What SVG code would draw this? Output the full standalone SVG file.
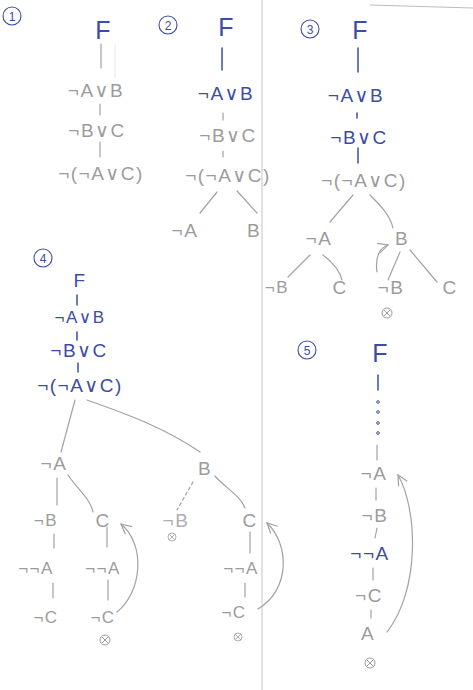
<svg xmlns="http://www.w3.org/2000/svg" xmlns:xlink="http://www.w3.org/1999/xlink" width="473" height="690" viewBox="0 0 473 690">
<style>
text{font-family:"Liberation Sans","DejaVu Sans",sans-serif;text-anchor:middle;dominant-baseline:central;}
.g{fill:#9c9c9c;font-size:19px;letter-spacing:1.5px;}
.b{fill:#3d4ca6;font-size:19px;letter-spacing:1.5px;}
.f{font-size:25px;letter-spacing:0;}
.s{font-size:17px;}
.n{fill:#3d4ca6;font-size:12px;}
.lg{stroke:#a2a2a2;stroke-width:1.2;fill:none;stroke-linecap:round;}
.lb{stroke:#3d4ca6;stroke-width:1.5;fill:none;stroke-linecap:round;}
.num{fill:none;stroke:#3d4ca6;stroke-width:1.1;}
.ot{fill:none;stroke:#9c9c9c;stroke-width:1;}
</style>
<defs>
<marker id="ah" viewBox="0 0 12 12" refX="11" refY="6" markerWidth="12" markerHeight="12" markerUnits="userSpaceOnUse" orient="auto">
<path d="M1,1 L11,6 L1,11" fill="none" stroke="#a2a2a2" stroke-width="1.2"/>
</marker>
<g id="otimes"><circle cx="0" cy="0" r="5" class="ot"/><path d="M-3.5,-3.5 L3.5,3.5 M-3.5,3.5 L3.5,-3.5" class="ot"/></g>
</defs>
<rect width="473" height="690" fill="#ffffff"/>
<g id="paper-marks">
<path d="M262,0 L262,690" stroke="#cfcfcf" stroke-width="1.2"/>
<path d="M370,5 L473,8" stroke="#bdbdbd" stroke-width="1.2"/>
<path d="M115,44 L115,78" stroke="#e6e6e6" stroke-width="1"/>
</g>
<g id="connectors">
<!-- panel 1 -->
<path class="lg" d="M101,44 L101,68"/>
<path class="lg" d="M100,104 L100,115"/>
<path class="lg" d="M100,142 L100,157"/>
<!-- panel 2 -->
<path class="lb" d="M222,48 L222,70"/>
<path class="lg" d="M223,113 L223,120"/>
<path class="lg" d="M223,151 L223,157"/>
<path class="lg" d="M217,192 L200,213"/>
<path class="lg" d="M237,191 L257,213"/>
<!-- panel 3 -->
<path class="lb" d="M358,48 L358,72"/>
<path class="lb" d="M357,113 L357,118"/>
<path class="lb" d="M358,148 L358,163" stroke-width="2"/>
<path class="lg" d="M353,195 L330,222"/>
<path class="lg" d="M370,195 C380,205 390,215 393,228"/>
<path class="lg" d="M310,255 L288,277"/>
<path class="lg" d="M323,255 C332,262 340,270 342,280"/>
<path class="lg" d="M400,252 L388,280"/>
<path class="lg" d="M410,250 L437,282"/>
<path class="lg" d="M377,272 C375,258 379,248 388,245" marker-end="url(#ah)"/>
<!-- panel 4 -->
<path class="lb" d="M77,295 L77,305"/>
<path class="lb" d="M77,332 L77,340"/>
<path class="lb" d="M78,363 L78,372"/>
<path class="lg" d="M75,400 L61,452"/>
<path class="lg" d="M87,400 C120,412 160,425 200,452"/>
<path class="lg" d="M57,478 L57,505"/>
<path class="lg" d="M68,475 C78,490 90,498 93,512"/>
<path class="lg" d="M54,534 L54,548"/>
<path class="lg" d="M107,527 L107,547"/>
<path class="lg" d="M53,583 L53,598"/>
<path class="lg" d="M108,580 L108,600"/>
<path class="lg" d="M193,482 L177,510" stroke-dasharray="3,3"/>
<path class="lg" d="M215,476 C225,488 240,495 245,508"/>
<path class="lg" d="M250,532 L250,553"/>
<path class="lg" d="M245,583 L245,597"/>
<path class="lg" d="M117,612 C142,592 146,545 121,524" marker-end="url(#ah)"/>
<path class="lg" d="M258,609 C290,590 290,545 267,523" marker-end="url(#ah)"/>
<!-- panel 5 -->
<path class="lb" d="M378,375 L378,390"/>
<g fill="none" stroke="#3d4ca6" stroke-width="1"><circle cx="378" cy="402" r="1.3"/><circle cx="378" cy="412" r="1.3"/><circle cx="378" cy="423" r="1.3"/><circle cx="378" cy="433" r="1.3"/></g>
<path class="lg" d="M377,445 L377,460"/>
<path class="lg" d="M376,488 L376,500"/>
<path class="lg" d="M377,528 L375,538"/>
<path class="lg" d="M373,568 L373,580"/>
<path class="lg" d="M371,610 L371,618"/>
<path class="lg" d="M387,632 C420,590 418,510 398,475" marker-end="url(#ah)"/>
</g>
<g id="panel1">
<g id="p1-num"><circle class="num" cx="12" cy="16" r="9"/><text class="n" x="12" y="16.5">1</text></g>
<g id="p1-F"><text class="b f" x="103" y="30">F</text></g>
<g id="p1-n1"><text class="g" x="96" y="90">¬A∨B</text></g>
<g id="p1-n2"><text class="g" x="97" y="130">¬B∨C</text></g>
<g id="p1-n3"><text class="g" x="101" y="173">¬(¬A∨C)</text></g>
</g>
<g id="panel2">
<g id="p2-num"><circle class="num" cx="168" cy="25" r="9"/><text class="n" x="168" y="25.5">2</text></g>
<g id="p2-F"><text class="b f" x="226" y="27">F</text></g>
<g id="p2-n1"><text class="b" x="226" y="93">¬A∨B</text></g>
<g id="p2-n2"><text class="g" x="228" y="135">¬B∨C</text></g>
<g id="p2-n3"><text class="g" x="228" y="175">¬(¬A∨C)</text></g>
<g id="p2-n4"><text class="g" x="185" y="230">¬A</text></g>
<g id="p2-n5"><text class="g" x="254" y="230">B</text></g>
</g>
<g id="panel3">
<g id="p3-num"><circle class="num" cx="310" cy="29" r="9"/><text class="n" x="310" y="29.5">3</text></g>
<g id="p3-F"><text class="b f" x="360" y="30">F</text></g>
<g id="p3-n1"><text class="b" x="356" y="95">¬A∨B</text></g>
<g id="p3-n2"><text class="b" x="359" y="137">¬B∨C</text></g>
<g id="p3-n3"><text class="g" x="364" y="180">¬(¬A∨C)</text></g>
<g id="p3-n4"><text class="g" x="319" y="238">¬A</text></g>
<g id="p3-n5"><text class="g" x="402" y="238">B</text></g>
<g id="p3-n6"><text class="g s" x="277" y="287">¬B</text></g>
<g id="p3-n7"><text class="g" x="340" y="287">C</text></g>
<g id="p3-n8"><text class="g" x="391" y="287">¬B</text><use href="#otimes" x="387" y="313"/></g>
<g id="p3-n9"><text class="g" x="450" y="287">C</text></g>
</g>
<g id="panel4">
<g id="p4-num"><circle class="num" cx="43" cy="258" r="9"/><text class="n" x="43" y="258.5">4</text></g>
<g id="p4-F"><text class="b" x="80" y="280" font-size="23" letter-spacing="0">F</text></g>
<g id="p4-n1"><text class="b s" x="80" y="317">¬A∨B</text></g>
<g id="p4-n2"><text class="b" x="79" y="350">¬B∨C</text></g>
<g id="p4-n3"><text class="b" x="80" y="385">¬(¬A∨C)</text></g>
<g id="p4-n4"><text class="g" x="54" y="463">¬A</text></g>
<g id="p4-n5"><text class="g" x="205" y="468">B</text></g>
<g id="p4-n6"><text class="g s" x="46" y="520">¬B</text></g>
<g id="p4-n7"><text class="g" x="103" y="520">C</text></g>
<g id="p4-n8"><text class="g s" x="36" y="568">¬¬A</text></g>
<g id="p4-n9"><text class="g s" x="103" y="568">¬¬A</text></g>
<g id="p4-n10"><text class="g s" x="46" y="617">¬C</text></g>
<g id="p4-n11"><text class="g s" x="103" y="617">¬C</text><use href="#otimes" x="105" y="640"/></g>
<g id="p4-n12"><text class="g" x="176" y="520" font-size="15" opacity="0.8">¬B</text><use href="#otimes" x="172" y="537" transform="translate(172 537) scale(0.8) translate(-172 -537)"/></g>
<g id="p4-n13"><text class="g" x="250" y="520">C</text></g>
<g id="p4-n14"><text class="g s" x="241" y="568">¬¬A</text></g>
<g id="p4-n15"><text class="g s" x="234" y="612">¬C</text><use href="#otimes" x="238" y="637" transform="translate(238 637) scale(0.8) translate(-238 -637)"/></g>
</g>
<g id="panel5">
<g id="p5-num"><circle class="num" cx="307" cy="350" r="9"/><text class="n" x="307" y="350.5">5</text></g>
<g id="p5-F"><text class="b f" x="380" y="353">F</text></g>
<g id="p5-n1"><text class="g" x="374" y="473">¬A</text></g>
<g id="p5-n2"><text class="g" x="375" y="515">¬B</text></g>
<g id="p5-n3"><text class="b" x="370" y="553">¬¬A</text></g>
<g id="p5-n4"><text class="g" x="369" y="595">¬C</text></g>
<g id="p5-n5"><text class="g" x="368" y="633" font-size="21" letter-spacing="0">A</text><use href="#otimes" x="370" y="663"/></g>
</g>
</svg>
